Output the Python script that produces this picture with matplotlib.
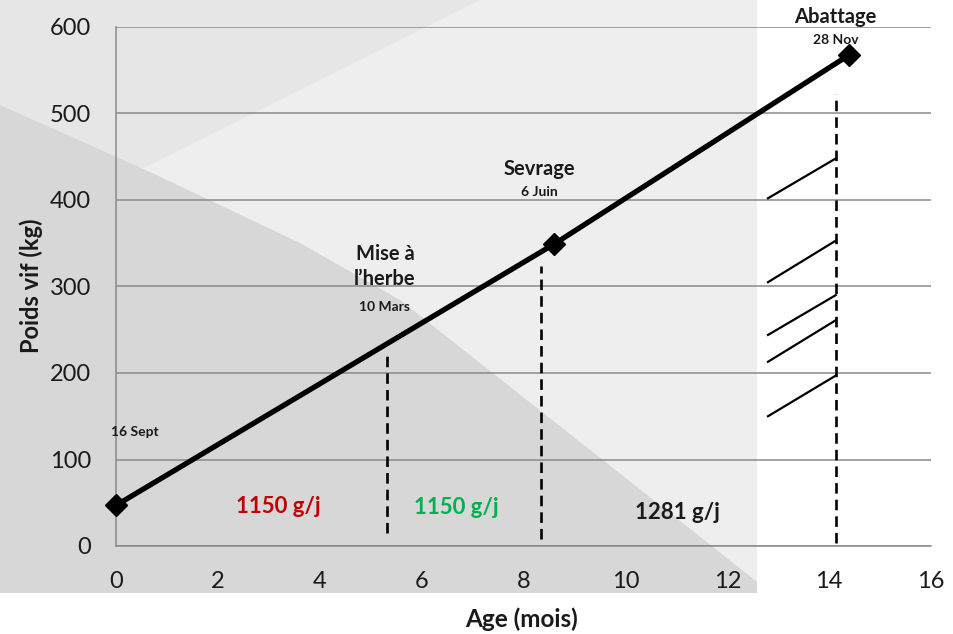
import matplotlib
matplotlib.use("Agg")
import matplotlib.pyplot as plt
from matplotlib.patches import Polygon

plt.rcParams['font.family'] = ['Lato', 'DejaVu Sans']

# growth curve (age in months, live weight in kg)
age = [0, 8.6, 14.4]
weight = [47, 349, 568]

# stage boundaries (dashed verticals): x, y bottom, y top
stage_x = [5.33, 8.34, 14.13]
stage_ybot = [15, 8, 3]
stage_ytop = [222, 324, 522]

# axis-break hatch marks near slaughter
hatch_x = [12.8, 14.13]
hatch_y0 = [402, 305, 244, 213, 150]
hatch_y1 = [448, 353, 290, 261, 197]

gains = ["1150 g/j", "1150 g/j", "1281 g/j"]
gain_x = [3.18, 6.69, 11.03]
gain_y = [46, 44, 39]
gain_colors = ["#c00000", "#00b050", "#1a1a1a"]

xticks = [0, 2, 4, 6, 8, 10, 12, 14, 16]
yticks = [0, 100, 200, 300, 400, 500, 600]

W, H = 954, 634
fig = plt.figure(figsize=(W / 100, H / 100), dpi=100, facecolor="white")


def px(pts):
    return [(x / W, 1 - y / H) for x, y in pts]


# slide background: light panel, darker curved wedge lower-left
fig.patches.append(Polygon(px([(0, 0), (757, 0), (757, 593), (0, 593)]),
                           closed=True, transform=fig.transFigure,
                           facecolor="#e6e6e6", edgecolor="none", zorder=-3))
fig.patches.append(Polygon(px([(140, 170), (480, 0), (757, 0), (757, 593),
                               (300, 593)]),
                           closed=True, transform=fig.transFigure,
                           facecolor="#eeeeee", edgecolor="none", zorder=-2.5))
fig.patches.append(Polygon(px([(0, 105), (150, 172), (300, 243), (400, 300),
                               (480, 363), (713, 547), (757, 582), (757, 593),
                               (0, 593)]),
                           closed=True, transform=fig.transFigure,
                           facecolor="#d7d7d7", edgecolor="none", zorder=-2))

ax = fig.add_axes([116 / W, 1 - 546 / H, (931 - 116) / W, (546 - 27) / H])
ax.set_facecolor("none")
ax.set_xlim(0, 16)
ax.set_ylim(0, 600)
ax.set_xticks(xticks)
ax.set_yticks(yticks)
ax.tick_params(length=0, labelsize=17, pad=18, colors="#1a1a1a")
ax.yaxis.grid(True, color="#8a8a8a", lw=1.1)
ax.set_axisbelow(True)
for s in ["top", "right"]:
    ax.spines[s].set_visible(False)
for s in ["left", "bottom"]:
    ax.spines[s].set_color("#8a8a8a")
    ax.spines[s].set_linewidth(1.1)

ax.plot(age, weight, color="black", lw=3.8, marker="D", ms=11,
        mfc="black", mec="black", zorder=5, clip_on=False)

for x, y0, y1 in zip(stage_x, stage_ybot, stage_ytop):
    ax.plot([x, x], [y0, y1], color="black", lw=1.9, dashes=(4, 2.3))

for y0, y1 in zip(hatch_y0, hatch_y1):
    ax.plot(hatch_x, [y0, y1], color="black", lw=1.6)

for txt, x, y, c in zip(gains, gain_x, gain_y, gain_colors):
    ax.text(x, y, txt, color=c, fontsize=16, fontweight="bold",
            ha="center", va="center")

bold = dict(fontweight="bold", ha="center", va="center", color="#1a1a1a")
ax.text(14.13, 611, "Abattage", fontsize=14.5, **bold)
ax.text(14.13, 585, "28 Nov", fontsize=10, **bold)
ax.text(8.32, 436, "Sevrage", fontsize=14.5, **bold)
ax.text(8.32, 409, "6 Juin", fontsize=10, **bold)
ax.text(5.28, 338, "Mise à", fontsize=14.5, **bold)
ax.text(5.28, 309, "l’herbe", fontsize=14.5, **bold)
ax.text(5.28, 276, "10 Mars", fontsize=10, **bold)
ax.text(0.36, 132, "16 Sept", fontsize=10, **bold)

fig.text(31 / W, 1 - 286 / H, "Poids vif (kg)", rotation=90, fontsize=17,
         fontweight="bold", ha="center", va="center", color="#1a1a1a")
fig.text(522 / W, 1 - 619 / H, "Age (mois)", fontsize=17.5,
         fontweight="bold", ha="center", va="center", color="#1a1a1a")

fig.savefig("out.png", dpi=100, facecolor="white")
